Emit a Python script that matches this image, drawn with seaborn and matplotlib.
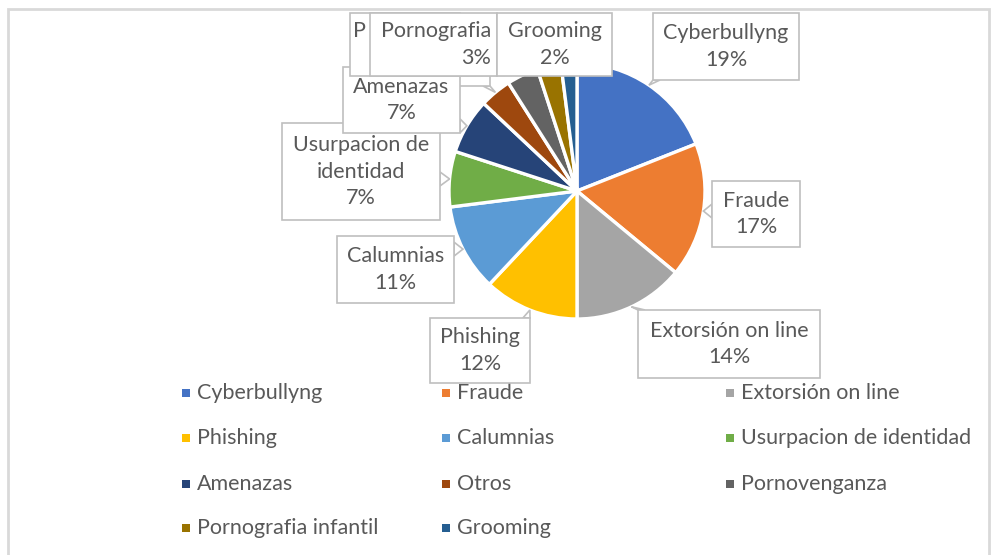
import numpy as np
import matplotlib
matplotlib.use("Agg")
import matplotlib.pyplot as plt
import seaborn as sns
from matplotlib.patches import Rectangle, Polygon
from matplotlib.transforms import Bbox

sns.set_theme(style="white")
plt.rcParams['font.family'] = ['Lato', 'DejaVu Sans']

categories = ["Cyberbullyng", "Fraude", "Extorsión on line", "Phishing", "Calumnias",
              "Usurpacion de identidad", "Amenazas", "Otros", "Pornovenganza",
              "Pornografia infantil", "Grooming"]
values = [19, 17, 14, 12, 11, 7, 7, 4, 4, 3, 2]
label_texts = ["Cyberbullyng", "Fraude", "Extorsión on line", "Phishing", "Calumnias",
               "Usurpacion de\nidentidad", "Amenazas", "Otros", "Pornovenganza",
               "Pornografia", "Grooming"]
colors = ["#4472C4", "#ED7D31", "#A5A5A5", "#FFC000", "#5B9BD5", "#70AD47",
          "#264478", "#9E480E", "#636363", "#997300", "#255E91"]

W, H = 995, 555
fig = plt.figure(figsize=(W / 100, H / 100), dpi=100)

def fx(x):
    return x / W

def fy(y):
    return 1 - y / H

FS = 15.5
LS = 1.4

# frame
fig.patches.append(Rectangle((fx(8), fy(H + 5)), fx(981), (H + 5 - 9) / H,
                             transform=fig.transFigure, fill=False,
                             edgecolor="#D9D9D9", linewidth=2, zorder=0))

cx, cy, R = 577, 191, 128
ax = fig.add_axes([fx(cx - R), fy(cy + R), 2 * R / W, 2 * R / H])
wedges, _ = ax.pie(values, colors=colors, startangle=90, counterclock=False,
                   wedgeprops=dict(edgecolor="white", linewidth=2.4))
ax.set_aspect("auto")
ax.set_xlim(-1, 1)
ax.set_ylim(-1, 1)
ax.axis("off")

# label boxes layout (pixels, top-left origin)
boxes = [(653, 13, 799, 80), (712, 181, 800, 247), (638, 310, 820, 378),
         (430, 318, 530, 383), (337, 236, 454, 303), (282, 123, 440, 220),
         (343, 67, 460, 133), (420, 22, 490, 86), (350, 13, 460, 76),
         (370, 13, 497, 76), (497, 13, 612, 76)]
zorders = [5, 5, 5, 5, 5, 5, 6, 4, 7, 8, 9]
txtcol = "#595959"
edgecol = "#BFBFBF"
total = sum(values)
cum = 0
for i, (v, lab, box, z) in enumerate(zip(values, label_texts, boxes, zorders)):
    mid = (cum + v / 2) / total * 2 * np.pi
    cum += v
    tipx = cx + R * np.sin(mid)
    tipy = cy - R * np.cos(mid)
    x0, y0, x1, y1 = box
    nx = min(max(tipx, x0), x1)
    ny = min(max(tipy, y0), y1)
    d = np.hypot(tipx - nx, tipy - ny)
    if d > 2:
        if nx in (x0, x1) and y0 < ny < y1:
            b1 = (nx, max(y0, ny - 7)); b2 = (nx, min(y1, ny + 7))
        else:
            b1 = (max(x0, nx - 7), ny); b2 = (min(x1, nx + 7), ny)
        poly = [(fx(b1[0]), fy(b1[1])), (fx(tipx), fy(tipy)), (fx(b2[0]), fy(b2[1]))]
        fig.patches.append(Polygon(poly, closed=True, transform=fig.transFigure,
                                   facecolor="white", edgecolor=edgecol,
                                   linewidth=1.2, zorder=z - 0.1))
    fig.patches.append(Rectangle((fx(x0), fy(y1)), (x1 - x0) / W, (y1 - y0) / H,
                                 transform=fig.transFigure, facecolor="white",
                                 edgecolor=edgecol, linewidth=1.2, zorder=z))
    pct = f"{round(v / total * 100)}%"
    if lab == "Pornografia":
        t = fig.text(fx(x1 - 6), fy((y0 + y1) / 2), f"{lab}\n{pct}", ha="right",
                     va="center", multialignment="right", fontsize=FS, color=txtcol,
                     linespacing=LS, zorder=z + 0.5)
    elif lab == "Pornovenganza":
        t = fig.text(fx(x0 + 3), fy((y0 + y1) / 2), f"{lab}\n{pct}", ha="left",
                     va="center", multialignment="center", fontsize=FS, color=txtcol,
                     linespacing=LS, zorder=z + 0.5)
        t.set_clip_box(Bbox([[x0, H - y1], [366, H - y0]]))
        t.set_clip_on(True)
    elif lab == "Otros":
        t = fig.text(fx((x0 + x1) / 2), fy((y0 + y1) / 2), f"{lab}\n{pct}", ha="center",
                     va="center", fontsize=FS, color=txtcol, linespacing=LS,
                     zorder=z + 0.5)
        t.set_clip_box(Bbox([[x0, H - y1], [x1, H - 76]]))
        t.set_clip_on(True)
    else:
        fig.text(fx((x0 + x1) / 2), fy((y0 + y1) / 2), f"{lab}\n{pct}", ha="center",
                 va="center", fontsize=FS, color=txtcol, linespacing=LS,
                 zorder=z + 0.5)

# legend (manual grid like Excel)
col_x = [186, 446, 730]
row_y = [393, 438, 484, 528]
for i, (name, c) in enumerate(zip(categories, colors)):
    col, row = i % 3, i // 3
    x, y = col_x[col], row_y[row]
    fig.patches.append(Rectangle((fx(x - 4), fy(y + 4)), 8 / W, 8 / H,
                                 transform=fig.transFigure, facecolor=c,
                                 edgecolor="none", zorder=3))
    fig.text(fx(x + 11), fy(y), name, ha="left", va="center", fontsize=FS,
             color=txtcol, zorder=3)

fig.savefig("out.png", dpi=100)
